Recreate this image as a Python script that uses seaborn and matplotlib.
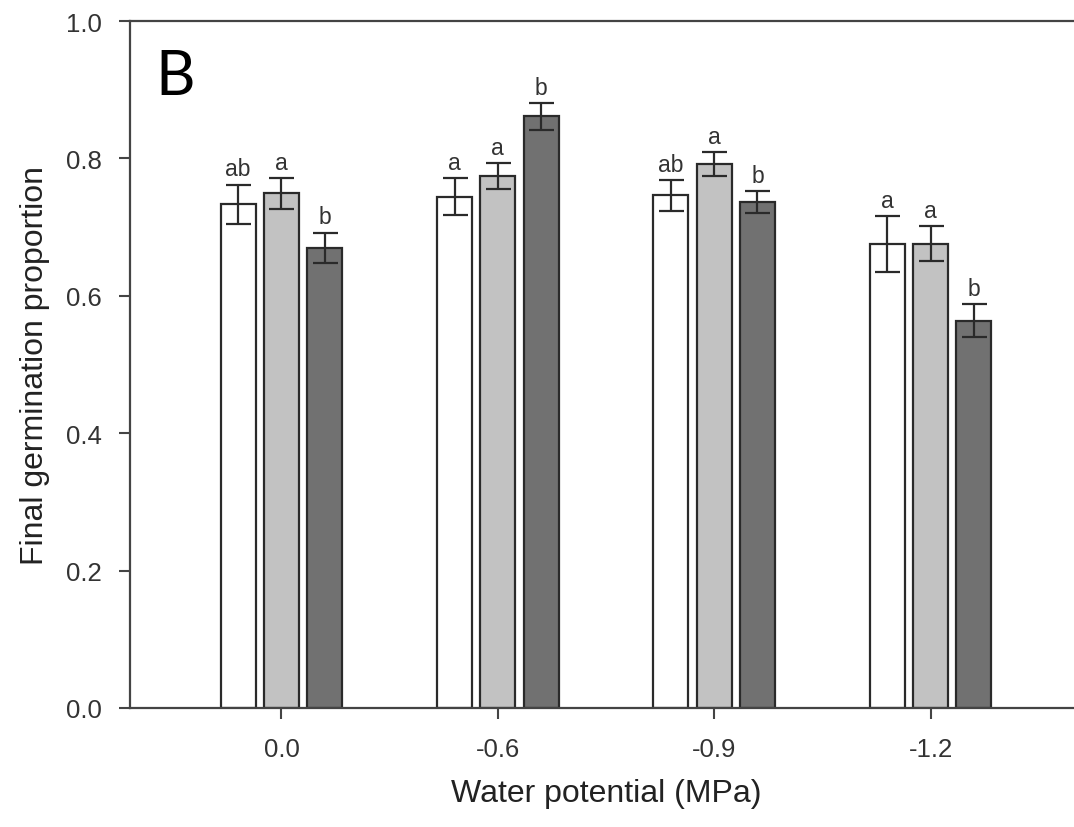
import matplotlib
matplotlib.use("Agg")
import matplotlib.pyplot as plt
import seaborn as sns
import pandas as pd
import numpy as np

potentials = ["0.0", "-0.6", "-0.9", "-1.2"]
treatments = ["T1", "T2", "T3"]
means_t1 = [0.733, 0.744, 0.746, 0.675]
means_t2 = [0.749, 0.774, 0.792, 0.676]
means_t3 = [0.670, 0.861, 0.736, 0.564]
err_t1 = [0.029, 0.027, 0.022, 0.041]
err_t2 = [0.022, 0.019, 0.017, 0.025]
err_t3 = [0.022, 0.020, 0.016, 0.024]
letters_t1 = ["ab", "a", "ab", "a"]
letters_t2 = ["a", "a", "a", "a"]
letters_t3 = ["b", "b", "b", "b"]
colors = ["#ffffff", "#c2c2c2", "#717171"]

rows = []
for t, m, e, l in zip(treatments, [means_t1, means_t2, means_t3],
                      [err_t1, err_t2, err_t3], [letters_t1, letters_t2, letters_t3]):
    for p, mv, ev, lv in zip(potentials, m, e, l):
        rows.append(dict(potential=p, treatment=t, mean=mv, err=ev, letter=lv))
df = pd.DataFrame(rows)

sns.set_style("white")
plt.rcParams["font.family"] = ["Liberation Sans", "DejaVu Sans"]

fig = plt.figure(figsize=(10.74, 8.28), dpi=100)
ax = fig.add_axes([130 / 1074, 1 - 709 / 828, 952 / 1074, (709 - 22) / 828])

sns.barplot(data=df, x="potential", y="mean", hue="treatment", order=potentials,
            hue_order=treatments, palette=colors, width=0.6, gap=0.19,
            edgecolor="#2a2a2a", linewidth=1.6, errorbar=None, legend=False,
            saturation=1, ax=ax)

for cont, t in zip(ax.containers, treatments):
    sub = df[df.treatment == t].set_index("potential").loc[potentials]
    for bar, mv, ev, lv in zip(cont.patches, sub["mean"], sub["err"], sub["letter"]):
        xc = bar.get_x() + bar.get_width() / 2
        ax.errorbar(xc, mv, yerr=ev, fmt="none", ecolor="#2a2a2a",
                    elinewidth=1.6, capsize=9, capthick=1.6, zorder=5)
        ax.annotate(lv, (xc, mv + ev), xytext=(0, 3), textcoords="offset points",
                    ha="center", va="bottom", fontsize=16.5, color="#333333")

ax.set_xlim(-0.7, 3.7)
ax.set_ylim(0, 1.0)
ax.set_yticks([0.0, 0.2, 0.4, 0.6, 0.8, 1.0])
ax.set_yticklabels(["0.0", "0.2", "0.4", "0.6", "0.8", "1.0"])
ax.tick_params(axis="both", which="major", bottom=True, left=True, direction="out",
               length=8, width=1.5, color="#444444",
               labelsize=18.5, labelcolor="#333333", pad=12)
ax.tick_params(axis="x", pad=13)
for s in ["left", "bottom", "top", "right"]:
    ax.spines[s].set_color("#444444")
    ax.spines[s].set_linewidth(1.6)
ax.set_xlabel("Water potential (MPa)", fontsize=23, color="#222222", labelpad=12)
ax.set_ylabel("Final germination proportion", fontsize=23, color="#222222", labelpad=12)
ax.text(0.027, 0.96, "B", transform=ax.transAxes, fontsize=44, ha="left", va="top",
        color="black", family=["Lato", "DejaVu Sans"])

fig.savefig("out.png", dpi=100)
